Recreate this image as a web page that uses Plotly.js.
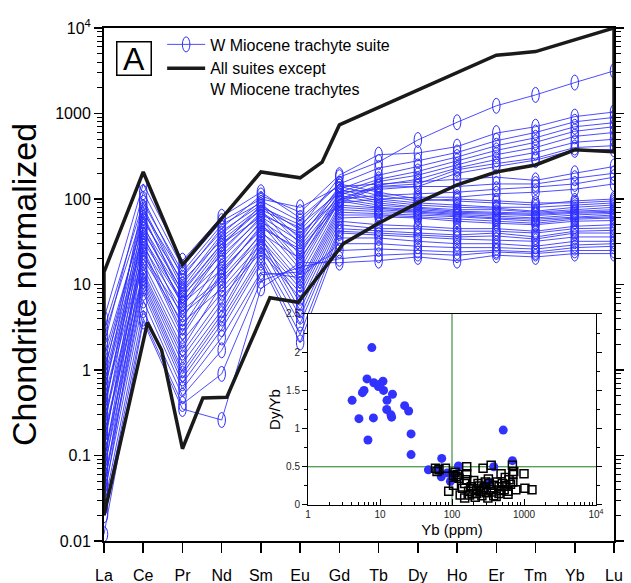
<!DOCTYPE html>
<html><head><meta charset="utf-8">
<script src="https://cdn.plot.ly/plotly-3.0.1.min.js"></script>
<style>html,body{margin:0;padding:0;background:#fff}#chart{width:631px;height:583px}</style>
</head><body><div id="chart"></div>
<script>
// ---------- DATA ----------
const elements = ['La','Ce','Pr','Nd','Sm','Eu','Gd','Tb','Dy','Ho','Er','Tm','Yb','Lu'];
const yTickVals = [0.01, 0.1, 1, 10, 100, 1000, 10000];
const yTickText = ['0.01','0.1','1','10','100','1000','10<sup>4</sup>'];

// W Miocene trachyte suite, chondrite-normalized (La..Lu)
const h1 = [1.2, 60, 8, 30, 75, 46, 180, 270, 490, 790, 1230, 1650, 2300, 3150];
const h2 = [0.5, 100, 12, 46, 110, 70, 190, 330, 345, 410, 590, 700, 920, 1040];
const h3 = [0.3, 80, 10, 39, 95, 55, 150, 230, 280, 350, 480, 600, 800, 900];
const h4 = [0.2, 65, 7, 28, 85, 43, 130, 190, 240, 310, 420, 520, 700, 780];
const h5 = [0.12, 50, 5.5, 24, 70, 37, 120, 170, 210, 280, 370, 460, 620, 700];
const h6 = [0.08, 38, 4, 20, 62, 32, 110, 160, 190, 250, 330, 400, 540, 600];
const h7 = [0.06, 30, 3.2, 16, 55, 28, 100, 145, 170, 230, 290, 350, 460, 500];
const h8 = [0.04, 24, 2.5, 13, 49, 24, 97, 140, 150, 220, 260, 300, 400, 420];
const h9 = [0.03, 16, 1.8, 10, 40, 20, 90, 138, 140, 200, 240, 285, 375, 380];
const m1 = [2, 120, 16, 55, 100, 80, 140, 150, 160, 170, 180, 165, 200, 240];
const m2 = [0.9, 75, 9, 36, 80, 50, 120, 130, 140, 140, 150, 150, 175, 200];
const m3 = [0.35, 44, 6, 26, 66, 40, 100, 110, 115, 120, 130, 138, 150, 180];
const m4 = [0.14, 26, 2.8, 14, 46, 26, 90, 100, 105, 105, 115, 120, 130, 150];
const f1 = [4, 150, 19, 62, 120, 60, 150, 120, 100, 95, 90, 85, 95, 100];
const f2 = [3, 90, 14, 50, 90, 34, 140, 110, 95, 100, 95, 90, 90, 95];
const f3 = [2.5, 70, 13, 42, 85, 30, 130, 100, 90, 85, 80, 80, 85, 90];
const f4 = [1.5, 55, 11, 33, 75, 22, 120, 95, 85, 80, 78, 72, 80, 85];
const f5 = [1.0, 47, 8.5, 30, 62, 19, 110, 90, 80, 75, 75, 70, 75, 80];
const f6 = [0.8, 41, 7.5, 22, 58, 17, 100, 85, 78, 72, 70, 68, 72, 75];
const f7 = [0.7, 35, 6.5, 18, 52, 15, 95, 80, 75, 70, 68, 66, 70, 72];
const f8 = [0.6, 32, 6, 15, 43, 13, 85, 78, 72, 68, 66, 64, 68, 70];
const f9 = [0.45, 28, 5, 12, 38, 11, 80, 75, 70, 66, 63, 60, 65, 68];
const f10 = [0.4, 22, 4.5, 11, 34, 10, 75, 72, 68, 64, 60, 58, 62, 65];
const f11 = [0.27, 20, 3.6, 9, 30, 9, 70, 68, 65, 62, 58, 55, 60, 62];
const f12 = [0.24, 18, 2.2, 8, 26, 8, 65, 65, 62, 58, 55, 52, 58, 60];
const f13 = [0.18, 14, 1.6, 7, 24, 7, 60, 62, 60, 55, 52, 50, 55, 56];
const l1 = [0.16, 13, 1.4, 6, 36, 6, 55, 50, 48, 45, 45, 42, 48, 50];
const l2 = [0.1, 12, 1.2, 5, 32, 5, 50, 45, 45, 42, 42, 40, 45, 46];
const l3 = [0.09, 11, 1, 4.5, 28, 4.2, 45, 42, 40, 38, 40, 36, 42, 43];
const l4 = [0.07, 10, 0.9, 4, 22, 3.5, 42, 40, 38, 36, 37, 34, 40, 40];
const l5 = [0.05, 9, 0.8, 3.5, 20, 2.6, 40, 38, 36, 34, 33, 32, 36, 36];
const l6 = [0.045, 8, 0.7, 3, 18, 2.1, 35, 35, 32, 30, 30, 28, 32, 32];
const l7 = [0.035, 6.5, 0.6, 2.4, 14, 12, 30, 30, 28, 27, 27, 26, 29, 30];
const l8 = [0.025, 5, 0.5, 1.7, 13, 14, 25, 26, 25, 24, 25, 24, 27, 28];
const l9 = [0.02, 4, 0.4, 0.9, 11, 16, 20, 22, 23, 22, 24, 23, 25, 25];
const l10 = [0.012, 3.7, 0.35, 0.26, 9, 18, 18, 19, 21, 19, 22, 21, 23, 23];
const mioceneSeries = [h1,h2,h3,h4,h5,h6,h7,h8,h9,m1,m2,m3,m4,f1,f2,f3,f4,f5,f6,f7,f8,f9,f10,f11,f12,f13,l1,l2,l3,l4,l5,l6,l7,l8,l9,l10];

// Envelope of all other suites (closed outline; x = element position 1..14)
const envPos = [1, 2, 3, 4, 5, 6, 6.56, 7, 11, 12, 14, 14, 13, 12, 11, 10, 9, 8, 7.1, 5.95, 5.23, 4.13, 3.52, 3, 2.47, 2.11, 1, 1];
const envVal = [14, 207, 17, 60, 207, 177, 270, 735, 4800, 5300, 10000, 356, 376, 250, 207, 146, 90, 52, 30, 6.2, 7.0, 0.48, 0.47, 0.12, 1.7, 3.6, 0.02, 14];

// Inset: Dy/Yb vs Yb (ppm)
const ybMiocene   = [7.7, 6.6, 8.2, 11, 9.5, 11.2, 14.9, 12.5, 5.7, 4.1, 12.4, 14.2, 14.5, 22, 25, 5.1, 8.1, 6.8, 27, 27, 72, 47, 65, 123, 515, 690, 71, 95, 86, 107, 380, 330, 10, 6];
const dyybMiocene = [2.06, 1.65, 1.60, 1.62, 1.55, 1.50, 1.45, 1.37, 1.47, 1.37, 1.25, 1.18, 1.15, 1.30, 1.23, 1.13, 1.14, 0.85, 0.93, 0.66, 0.61, 0.46, 0.46, 0.51, 0.98, 0.58, 0.37, 0.31, 0.42, 0.39, 0.50, 0.30, 1.58, 1.50];
const ybOther   = [59, 81, 62, 66, 105, 114, 110, 160, 160, 160, 270, 350, 690, 720, 1000, 480, 620, 770, 1030, 1290, 90, 105, 130, 150, 220, 315, 410, 530, 330, 230, 185, 140, 170, 200, 250, 280, 300, 350, 380, 420, 450, 500, 560, 600, 650, 700, 450, 380, 260, 210, 175, 240, 290, 320, 200, 150, 125, 550, 600, 480, 360, 270, 220, 190, 700, 120];
const dyybOther = [0.48, 0.48, 0.44, 0.46, 0.39, 0.37, 0.43, 0.50, 0.41, 0.33, 0.48, 0.52, 0.52, 0.44, 0.41, 0.41, 0.33, 0.20, 0.22, 0.20, 0.18, 0.26, 0.13, 0.09, 0.15, 0.09, 0.11, 0.20, 0.28, 0.28, 0.24, 0.22, 0.18, 0.21, 0.18, 0.23, 0.16, 0.20, 0.26, 0.30, 0.24, 0.28, 0.25, 0.18, 0.27, 0.30, 0.15, 0.12, 0.12, 0.10, 0.13, 0.25, 0.30, 0.34, 0.32, 0.28, 0.35, 0.36, 0.14, 0.19, 0.17, 0.21, 0.19, 0.15, 0.40, 0.40];
const refYb = [100, 100];
const refYbSpan = [0, 2.5];
const refRatio = [0.5, 0.5];
const refRatioSpan = [1, 10000];

// ---------- CHART ----------
const FONT = 'Liberation Sans, Arial, Helvetica, sans-serif';
const BLUE = 'rgb(45,45,255)';
const xPos = elements.map((e, i) => i + 1);

const traces = [];
mioceneSeries.forEach((s, i) => {
  traces.push({
    x: xPos, y: s, xaxis: 'x', yaxis: 'y', type: 'scatter', mode: 'lines+markers',
    name: 'W Miocene trachyte suite', legendgroup: 'wm', showlegend: i === 0,
    line: {color: BLUE, width: 0.85},
    marker: {symbol: 'circle-open', size: 15, color: BLUE, line: {width: 1, color: BLUE}},
    hoverinfo: 'skip'
  });
});
traces.push({
  x: envPos, y: envVal, xaxis: 'x', yaxis: 'y', type: 'scatter', mode: 'lines',
  name: 'All suites except<br>W Miocene trachytes',
  line: {color: '#1a1a1a', width: 3.5}, hoverinfo: 'skip'
});
// inset
traces.push({x: refYb, y: refYbSpan, xaxis: 'x2', yaxis: 'y2', mode: 'lines', showlegend: false,
  line: {color: '#1a7a1a', width: 1}, hoverinfo: 'skip'});
traces.push({x: refRatioSpan, y: refRatio, xaxis: 'x2', yaxis: 'y2', mode: 'lines', showlegend: false,
  line: {color: '#1a7a1a', width: 1}, hoverinfo: 'skip'});
traces.push({x: ybMiocene, y: dyybMiocene, xaxis: 'x2', yaxis: 'y2', mode: 'markers', showlegend: false,
  marker: {symbol: 'circle', size: 9, color: 'rgb(50,50,255)'}, hoverinfo: 'skip'});
traces.push({x: ybOther, y: dyybOther, xaxis: 'x2', yaxis: 'y2', mode: 'markers', showlegend: false,
  marker: {symbol: 'square-open', size: 8, color: '#000', line: {width: 1.5, color: '#000'}}, hoverinfo: 'skip'});

const yMinor = [];
for (let d = -2; d <= 3; d++) for (let k = 2; k <= 9; k++) yMinor.push(k * Math.pow(10, d));
const x2Minor = [];
for (let d = 0; d <= 3; d++) for (let k = 2; k <= 9; k++) x2Minor.push(k * Math.pow(10, d));

const layout = {
  width: 631, height: 583,
  margin: {l: 104, r: 17, t: 28, b: 42},
  paper_bgcolor: '#fff', plot_bgcolor: '#fff',
  font: {family: FONT, color: '#000', size: 16},
  showlegend: true,
  legend: {x: 0.114, y: 1.001, xanchor: 'left', yanchor: 'top', bgcolor: 'rgba(0,0,0,0)', itemwidth: 38,
           font: {family: FONT, size: 16, color: '#000'}, valign: 'top', tracegroupgap: 0, traceorder: 'normal'},
  xaxis: {
    domain: [0, 1], anchor: 'y', range: [1, 14], tickmode: 'array', tickvals: xPos, ticktext: elements,
    ticks: 'outside', ticklen: 10, tickwidth: 1.5, tickcolor: '#000',
    showline: true, linewidth: 2, linecolor: '#000', mirror: true,
    showgrid: false, zeroline: false, tickfont: {size: 16, family: FONT}, ticklabelstandoff: 9
  },
  yaxis: {
    domain: [0, 1], anchor: 'x', type: 'log', range: [-2, 4], tickmode: 'array', tickvals: yTickVals, ticktext: yTickText,
    ticks: 'outside', ticklen: 8, tickwidth: 1.5, tickcolor: '#000',
    showline: true, linewidth: 2, linecolor: '#000', mirror: 'ticks',
    showgrid: false, zeroline: false, tickfont: {size: 16, family: FONT},
    minor: {tickmode: 'array', tickvals: yMinor, ticks: 'outside', ticklen: 5, tickwidth: 1, tickcolor: '#000', showgrid: false},
    title: {text: 'Chondrite normalized', font: {size: 34, family: FONT}, standoff: 8}
  },
  xaxis2: {
    domain: [0.4, 0.9647], anchor: 'y2', type: 'log', range: [0, 4], tickmode: 'array',
    tickvals: [1, 10, 100, 1000, 10000], ticktext: ['1', '10', '100', '1000', '10<sup>4</sup>'],
    ticks: 'inside', ticklen: 6, tickcolor: '#000', showline: true, linewidth: 1, linecolor: '#000', mirror: true,
    showgrid: false, zeroline: false, tickfont: {size: 10, family: FONT, color: '#222'},
    minor: {tickmode: 'array', tickvals: x2Minor, ticks: 'inside', ticklen: 3, tickcolor: '#000', showgrid: false},
    title: {text: 'Yb (ppm)', font: {size: 15, family: FONT}, standoff: 5}
  },
  yaxis2: {
    domain: [0.0702, 0.4425], anchor: 'x2', range: [0, 2.5], tickmode: 'linear', tick0: 0, dtick: 0.5,
    ticks: 'outside', ticklen: 5, tickcolor: '#000', showline: true, linewidth: 1, linecolor: '#000', mirror: 'ticks',
    showgrid: false, zeroline: false, tickfont: {size: 10, family: FONT, color: '#222'},
    minor: {dtick: 0.25, ticks: 'outside', ticklen: 3, tickcolor: '#000', showgrid: false},
    title: {text: 'Dy/Yb', font: {size: 15, family: FONT}, standoff: 1}
  },
  annotations: [{
    xref: 'paper', yref: 'paper', x: 0.0598, y: 0.9415, xanchor: 'center', yanchor: 'middle',
    text: 'A', showarrow: false, font: {size: 32, family: FONT, color: '#000'},
    bordercolor: '#000', borderwidth: 1.5, width: 33, height: 32, borderpad: 0
  }]
};

Plotly.newPlot('chart', traces, layout, {staticPlot: true, displayModeBar: false}).then(gd => {
  const stretch = p => {
    const t = p.getAttribute('transform') || '';
    if (t.indexOf('scale') === -1) p.setAttribute('transform', t + ' scale(0.5,1)');
    p.style.vectorEffect = 'non-scaling-stroke';
  };
  gd.querySelectorAll('.subplot.xy .scatterlayer .trace .points path.point').forEach(stretch);
  gd.querySelectorAll('.legend .legendpoints path.scatterpts').forEach(stretch);
});
</script>
</body></html>
